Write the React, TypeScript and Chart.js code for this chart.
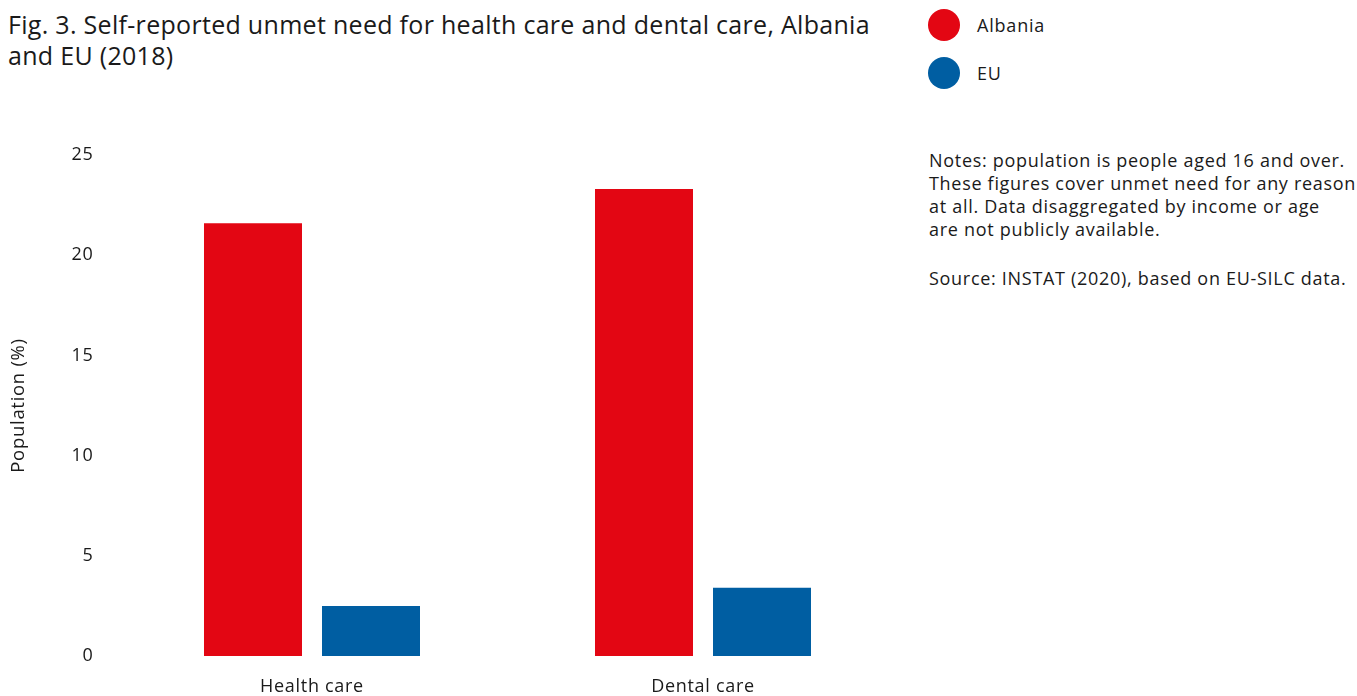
import React, { useEffect, useRef } from "react";
import { Chart, registerables } from "chart.js";

Chart.register(...registerables);

const categories = ["Health care", "Dental care"];
const seriesNames = ["Albania", "EU"];
const albaniaValues = [21.6, 23.3];
const euValues = [2.5, 3.4];
const yTicks = [0, 5, 10, 15, 20, 25];
const colors = ["#e30613", "#005ea2"];

const FONT = "'Open Sans', 'Noto Sans', sans-serif";
const TEXT = "#1a1a1a";
const SPACING = "0.7px";

const spacingPlugin = {
  id: "spacing",
  beforeUpdate(chart: any) {
    chart.ctx.letterSpacing = SPACING;
  },
  beforeDraw(chart: any) {
    chart.ctx.letterSpacing = SPACING;
  },
};

export default function App() {
  const ref = useRef<HTMLCanvasElement | null>(null);

  useEffect(() => {
    if (!ref.current) return;
    const chart = new Chart(ref.current, {
      type: "bar",
      data: {
        labels: categories,
        datasets: [
          {
            label: seriesNames[0],
            data: albaniaValues,
            backgroundColor: colors[0],
            barPercentage: 0.8305,
            categoryPercentage: 0.6036,
          },
          {
            label: seriesNames[1],
            data: euValues,
            backgroundColor: colors[1],
            barPercentage: 0.8305,
            categoryPercentage: 0.6036,
          },
        ],
      },
      plugins: [spacingPlugin],
      options: {
        animation: false,
        responsive: false,
        maintainAspectRatio: false,
        layout: { padding: { top: 25, right: 11.5, left: 0, bottom: 0 } },
        plugins: { legend: { display: false }, tooltip: { enabled: false } },
        scales: {
          x: {
            grid: { display: false, drawTicks: false },
            border: { display: false },
            ticks: {
              color: TEXT,
              font: { family: FONT, size: 18 },
              padding: 20,
            },
            afterFit: (s: any) => {
              s.height = 40;
            },
          },
          y: {
            min: 0,
            max: 25,
            afterBuildTicks: (s: any) => {
              s.ticks = yTicks.map((v) => ({ value: v }));
            },
            grid: { display: false, drawTicks: false },
            border: { display: false },
            ticks: {
              color: TEXT,
              font: { family: FONT, size: 18 },
              padding: 23,
            },
            title: {
              display: true,
              text: "Population (%)",
              color: TEXT,
              font: { family: FONT, size: 18.5 },
              padding: { top: 8, bottom: 0 },
            },
            afterFit: (s: any) => {
              s.width = 116.5;
              s.paddingTop = 10;
              s.paddingBottom = 10;
            },
          },
        },
      },
    });
    return () => chart.destroy();
  }, []);

  return (
    <div
      style={{
        position: "fixed",
        left: 0,
        top: 0,
        width: 1357,
        height: 696,
        background: "#fff",
        fontFamily: FONT,
        color: TEXT,
        overflow: "hidden",
      }}
    >
      <div
        style={{
          position: "absolute",
          left: 8,
          top: 8.5,
          width: 920,
          fontSize: 25,
          lineHeight: "31px",
          letterSpacing: "0.3px",
          whiteSpace: "nowrap",
        }}
      >
        Fig. 3. Self-reported unmet need for health care and dental care, Albania
        <br />
        and EU (2018)
      </div>

      {seriesNames.map((name, i) => (
        <div
          key={name}
          style={{
            position: "absolute",
            left: 928,
            top: 9 + i * 48,
            height: 32,
            display: "flex",
            alignItems: "center",
          }}
        >
          <div
            style={{
              width: 32,
              height: 32,
              borderRadius: "50%",
              background: colors[i],
            }}
          />
          <span style={{ marginLeft: 17, fontSize: 18, letterSpacing: "0.8px" }}>{name}</span>
        </div>
      ))}

      <div
        style={{
          position: "absolute",
          left: 929,
          top: 149,
          width: 440,
          fontSize: 18,
          lineHeight: "23px",
          letterSpacing: SPACING,
          whiteSpace: "nowrap",
        }}
      >
        Notes: population is people aged 16 and over.
        <br />
        These figures cover unmet need for any reason
        <br />
        at all. Data disaggregated by income or age
        <br />
        are not publicly available.
        <div style={{ marginTop: 26 }}>Source: INSTAT (2020), based on EU-SILC data.</div>
      </div>

      <canvas
        ref={ref}
        width={910}
        height={566}
        style={{ position: "absolute", left: 0, top: 130, width: 910, height: 566 }}
      />
    </div>
  );
}
